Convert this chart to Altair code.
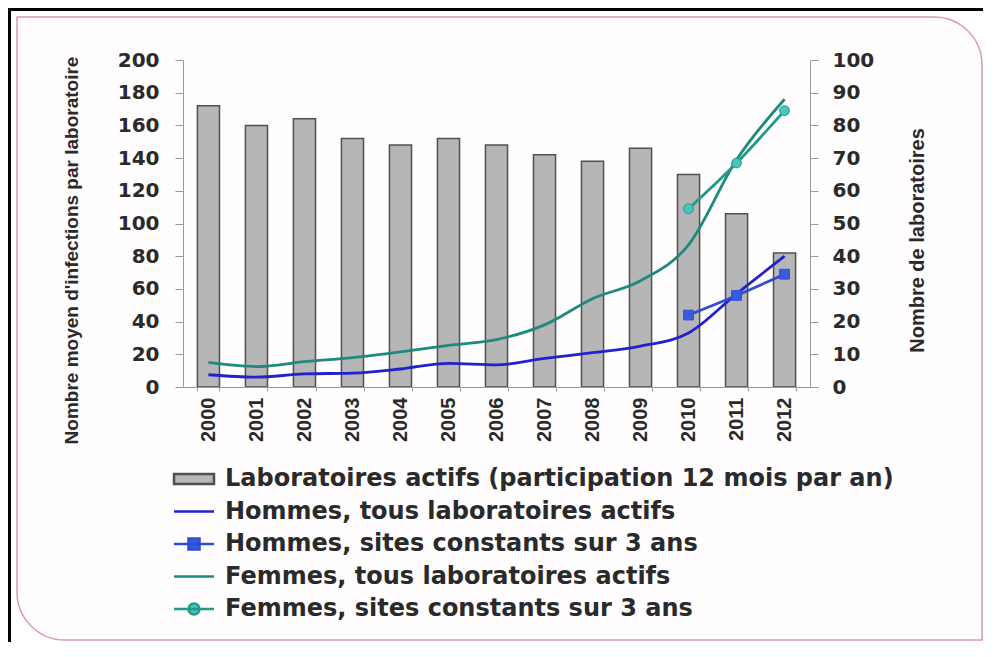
import altair as alt
import pandas as pd

# ---------------- data ----------------
years = ["2000", "2001", "2002", "2003", "2004", "2005", "2006",
         "2007", "2008", "2009", "2010", "2011", "2012"]
labs = [86, 80, 82, 76, 74, 76, 74, 71, 69, 73, 65, 53, 41]
hommes_tous = [7.5, 6, 8, 8.5, 11, 14.5, 13.5, 17.5, 21, 25, 33, 57, 80]
femmes_tous = [15, 12.5, 15.5, 18, 21.5, 25.5, 29, 38, 54, 65, 87, 139, 176]
sites_years = ["2010", "2011", "2012"]
hommes_sites = [44, 56, 69]
femmes_sites = [109, 137, 169]

series_names = [
    "Laboratoires actifs (participation 12 mois par an)",
    "Hommes, tous laboratoires actifs",
    "Hommes, sites constants sur 3 ans",
    "Femmes, tous laboratoires actifs",
    "Femmes, sites constants sur 3 ans",
]
left_ticks = [0, 20, 40, 60, 80, 100, 120, 140, 160, 180, 200]
right_ticks = [0, 10, 20, 30, 40, 50, 60, 70, 80, 90, 100]

left_title = "Nombre moyen d'infections par laboratoire"
right_title = "Nombre de laboratoires"

# ---------------- styles ----------------
BAR_FILL = "#b6b6b6"
BAR_STROKE = "#505050"
H_LINE = "#2222cc"
H_SITE = "#2f4cd6"
H_MARK = "#3a5ae0"
F_LINE = "#1f8a7c"
F_SITE = "#23998a"
F_MARK = "#46c6bd"
TXT = "#2a2a2a"
AX = "#9a9a9a"

bars_df = pd.DataFrame({"year": years, "labs": labs})
lines_df = pd.DataFrame({
    "year": years + years,
    "value": hommes_tous + femmes_tous,
    "series": [series_names[1]] * len(years) + [series_names[3]] * len(years),
})
sites_df = pd.DataFrame({
    "year": sites_years + sites_years,
    "value": hommes_sites + femmes_sites,
    "series": [series_names[2]] * 3 + [series_names[4]] * 3,
})
frame_df = pd.DataFrame({"k": [0]})
legend_df = pd.DataFrame({"series": pd.Series([], dtype="object")})

xscale = alt.Scale(domain=years, paddingInner=0.54, paddingOuter=0.3)
x_axis = alt.Axis(
    title=None, labelAngle=270, labelFont="Liberation Sans", labelFontWeight="bold",
    labelFontSize=20, labelColor=TXT, labelPadding=6, tickSize=4, tickColor=AX,
    tickBand="extent", domainColor=AX, grid=False, zindex=1,
)
X = alt.X("year:O", sort=years, scale=xscale, axis=x_axis)

left_axis = alt.Axis(
    orient="left", values=left_ticks, title=left_title, grid=False, zindex=1,
    labelFont="DejaVu Sans", labelFontWeight="bold", labelFontSize=20, labelColor=TXT,
    labelPadding=16, tickSize=8, tickColor=AX, domainColor=AX,
    titleFont="Liberation Sans", titleFontWeight="bold", titleFontSize=19, titleColor=TXT,
    titleAngle=270, titleX=-112, titleY=190, titleAlign="center", titleBaseline="middle",
)
right_axis = alt.Axis(
    orient="right", values=right_ticks, title=right_title, grid=False, zindex=1,
    labelFont="DejaVu Sans", labelFontWeight="bold", labelFontSize=20, labelColor=TXT,
    labelPadding=14, tickSize=8, tickColor=AX, domainColor=AX,
    titleFont="Liberation Sans", titleFontWeight="bold", titleFontSize=20, titleColor=TXT,
    titleAngle=270, titleX=107, titleY=180, titleAlign="center", titleBaseline="middle",
)
YL = alt.Y("value:Q", scale=alt.Scale(domain=[0, 200]), axis=left_axis)

# ---------------- decorative frame ----------------
black_top = alt.Chart(frame_df).mark_rect(color="#000000").encode(
    x=alt.value(-175), x2=alt.value(800), y=alt.value(-52), y2=alt.value(-49))
black_left = alt.Chart(frame_df).mark_rect(color="#000000").encode(
    x=alt.value(-175), x2=alt.value(-172), y=alt.value(-52), y2=alt.value(582))
pink = alt.Chart(frame_df).mark_rect(
    fill="#fffdfe", stroke="#d99ab6", strokeWidth=1.5,
    cornerRadiusTopRight=48, cornerRadiusBottomLeft=48,
).encode(x=alt.value(-166), x2=alt.value(799), y=alt.value(-43), y2=alt.value(580))

# ---------------- bars ----------------
bars = alt.Chart(bars_df).mark_bar(fill=BAR_FILL, stroke=BAR_STROKE, strokeWidth=1.5).encode(
    x=X,
    y=alt.Y("labs:Q", scale=alt.Scale(domain=[0, 100]), axis=right_axis),
)

# ---------------- lines ----------------
def line_layer(df, name, color):
    return alt.Chart(df).transform_filter(alt.datum.series == name).mark_line(
        color=color, strokeWidth=2.8, interpolate="monotone"
    ).encode(x=X, y=YL)

def marker_layer(df, name, color, shape, stroke):
    return alt.Chart(df).transform_filter(alt.datum.series == name).mark_point(
        shape=shape, filled=True, size=95, opacity=1, color=color, stroke=stroke, strokeWidth=1
    ).encode(x=X, y=YL)

lines = alt.layer(
    line_layer(lines_df, series_names[1], H_LINE),
    line_layer(lines_df, series_names[3], F_LINE),
    line_layer(sites_df, series_names[2], H_SITE),
    line_layer(sites_df, series_names[4], F_SITE),
    marker_layer(sites_df, series_names[2], H_MARK, "square", H_SITE),
    marker_layer(sites_df, series_names[4], F_MARK, "circle", F_SITE),
)

# ---------------- legend driver (no rows, legend only) ----------------
sym_paths = [
    "M-2,-0.5H2V0.5H-2Z",
    "M-2,0H2",
    "M-2,0H2M-0.55,-0.55H0.55V0.55H-0.55Z",
    "M-2,0H2",
    "M-2,0H2M-0.55,0A0.55,0.55,0,1,0,0.55,0A0.55,0.55,0,1,0,-0.55,0Z",
]
fill_range = [BAR_FILL, H_LINE, H_MARK, F_LINE, F_MARK]
stroke_range = [BAR_STROKE, H_LINE, H_SITE, F_LINE, F_SITE]

leg = alt.Legend(
    title=None, orient="none", legendX=-1, legendY=407, padding=0,
    symbolSize=400, symbolStrokeWidth=2.5, labelOffset=19, rowPadding=8.5,
    labelFont="DejaVu Sans", labelFontWeight="bold", labelFontSize=24,
    labelColor=TXT, labelLimit=900, labelBaseline="middle",
)
driver = alt.Chart(legend_df).mark_point(filled=True, opacity=1, strokeWidth=2.5).encode(
    fill=alt.Fill("series:N", scale=alt.Scale(domain=series_names, range=fill_range), legend=leg),
    stroke=alt.Stroke("series:N", scale=alt.Scale(domain=series_names, range=stroke_range), legend=leg),
    shape=alt.Shape("series:N", scale=alt.Scale(domain=series_names, range=sym_paths), legend=leg),
)

chart = alt.layer(
    black_top, black_left, pink, bars, lines, driver
).resolve_scale(y="independent").properties(
    width=627, height=327, padding=0, background="white"
).configure_view(stroke="transparent")

chart.save("out.html", embed_options={"renderer": "svg", "actions": False})
